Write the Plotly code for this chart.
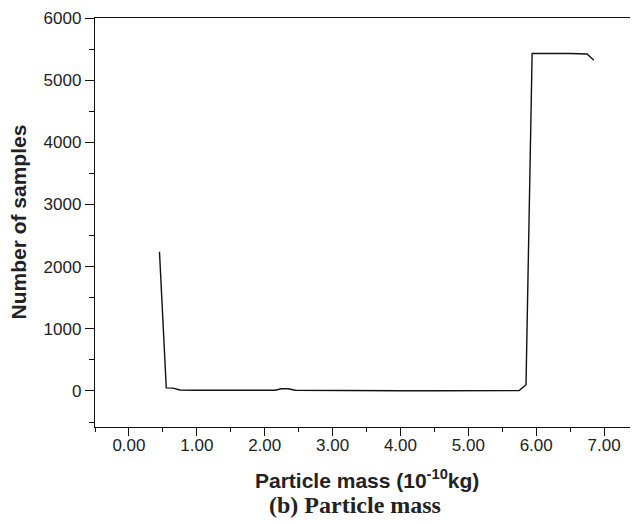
import plotly.graph_objects as go

# Particle mass (10^-10 kg) and number of samples
mass = [0.45, 0.55, 0.65, 0.75, 1.00, 1.50, 2.00, 2.15, 2.25, 2.35, 2.45, 2.75,
        3.00, 3.50, 4.00, 4.50, 5.00, 5.50, 5.75, 5.85, 5.94, 6.50, 6.75, 6.85]
samples = [2240, 50, 45, 15, 12, 10, 10, 12, 35, 35, 12, 8,
           5, 2, 2, 3, 3, 2, 5, 100, 5430, 5430, 5420, 5320]

x_ticks = [0, 1, 2, 3, 4, 5, 6, 7]
x_tick_labels = ["0.00", "1.00", "2.00", "3.00", "4.00", "5.00", "6.00", "7.00"]
y_ticks = [0, 1000, 2000, 3000, 4000, 5000, 6000]

fig = go.Figure()
fig.add_trace(go.Scatter(x=mass, y=samples, mode="lines",
                         line=dict(color="#111111", width=1.4),
                         showlegend=False, hoverinfo="skip"))

axis_font = dict(family="Liberation Sans, Arial, sans-serif", size=17, color="#222222")

# page body has an 8px margin, so the figure is 8px smaller on each axis
fig.update_layout(
    width=630, height=516,
    margin=dict(l=87, r=0, t=10, b=97),
    plot_bgcolor="white", paper_bgcolor="white",
    xaxis=dict(range=[-0.5, 7.5], tickvals=x_ticks, ticktext=x_tick_labels,
               showline=True, linecolor="#111111", linewidth=1.3, mirror=True,
               ticks="outside", ticklen=8, tickwidth=1.2, tickcolor="#111111",
               ticklabelstandoff=-6,
               minor=dict(dtick=0.5, tick0=-0.5, ticks="outside", ticklen=4,
                          tickwidth=1.2, tickcolor="#111111"),
               showgrid=False, zeroline=False, tickfont=axis_font),
    yaxis=dict(range=[-580, 6000], tickvals=y_ticks,
               showline=True, linecolor="#111111", linewidth=1.3, mirror=False,
               ticks="outside", ticklen=9, tickwidth=1.2, tickcolor="#111111",
               minor=dict(dtick=500, tick0=0, ticks="outside", ticklen=5,
                          tickwidth=1.2, tickcolor="#111111"),
               showgrid=False, zeroline=False, tickfont=axis_font),
    annotations=[
        dict(text="<b>Particle mass (10<sup>-10</sup>kg)</b>", xref="paper", yref="paper",
             x=0.5, y=0, yshift=-52, xanchor="center", yanchor="middle", showarrow=False,
             font=dict(family="Liberation Sans, Arial, sans-serif", size=21, color="#222222")),
        dict(text="<b>(b) Particle mass</b>", xref="paper", yref="paper",
             x=(355 - 95) / 543, y=0, yshift=-78, xanchor="center", yanchor="middle",
             showarrow=False,
             font=dict(family="Liberation Serif, Times New Roman, serif", size=24, color="#222222")),
        dict(text="<b>Number of samples</b>", xref="paper", yref="paper",
             x=0, y=0.5, xshift=-77, xanchor="center", yanchor="middle", textangle=-90,
             showarrow=False,
             font=dict(family="Liberation Sans, Arial, sans-serif", size=21, color="#222222")),
    ],
)

fig.write_html("out.html")
